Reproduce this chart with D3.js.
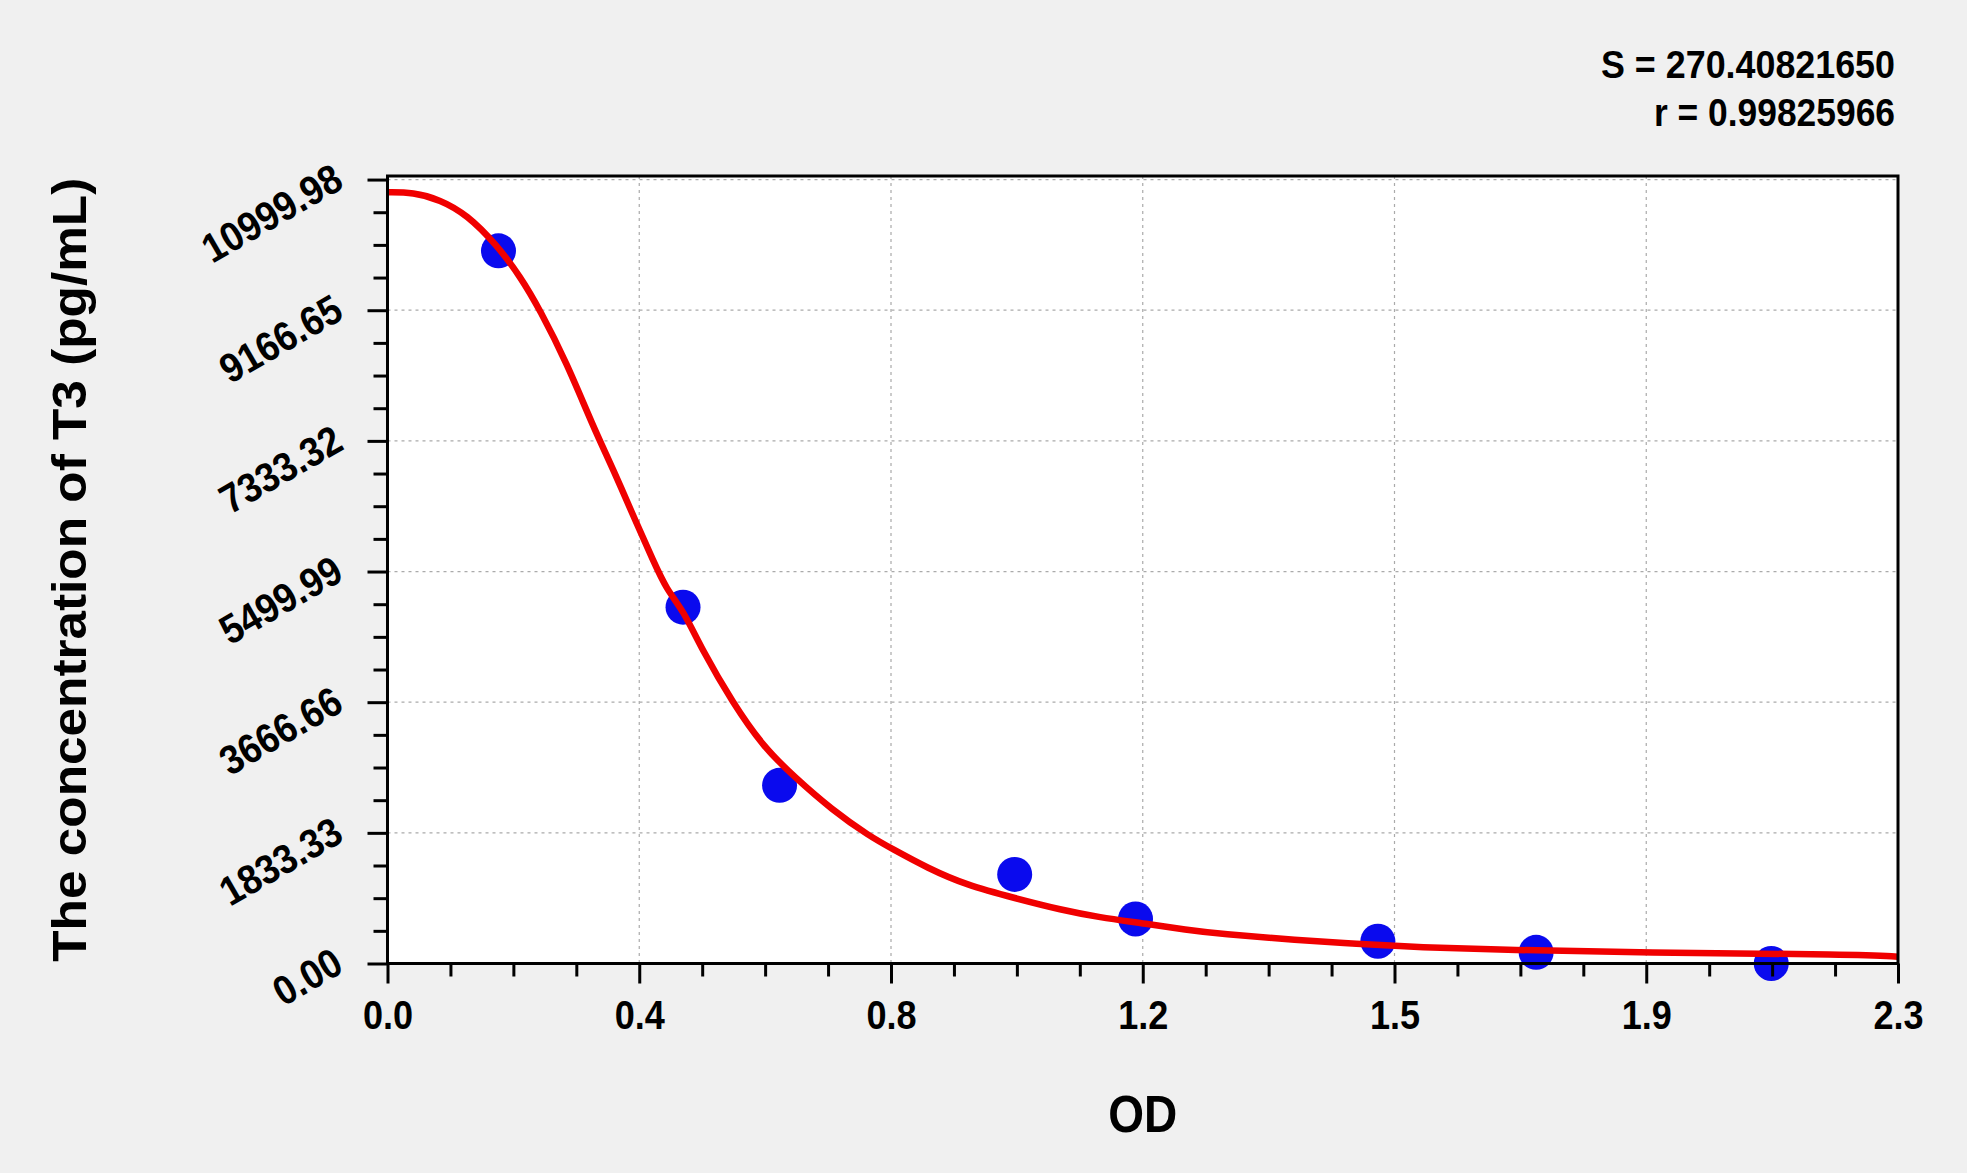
<!DOCTYPE html>
<html>
<head>
<meta charset="utf-8">
<script src="https://cdn.jsdelivr.net/npm/d3@7"></script>
<style>
  html, body { margin: 0; padding: 0; background: #f0f0f0; }
  svg { display: block; }
  text { font-family: "Liberation Sans", Arial, sans-serif; font-weight: bold; fill: #000; }
</style>
</head>
<body>
<div id="chart"></div>
<script>
// Standard points (OD vs concentration)
var odValues = [0.169, 0.450, 0.597, 0.955, 1.139, 1.508, 1.749, 2.107];
var concValues = [10000, 5000, 2500, 1250, 625, 312.5, 156.25, 0];

// Fitted curve
var curveOD = [0.000, 0.039, 0.080, 0.121, 0.166, 0.202, 0.232, 0.273, 0.313, 0.344, 0.379, 0.404,
    0.425, 0.450, 0.479, 0.526, 0.572, 0.619, 0.677, 0.735, 0.767, 0.823, 0.881, 0.956, 1.026,
    1.084, 1.150, 1.217, 1.268, 1.386, 1.474, 1.570, 1.710, 1.902, 2.241, 2.300];
var curveConc = [10821, 10821, 10719, 10508, 10087, 9642, 9174, 8426, 7536, 6928, 6180, 5665,
    5244, 4963, 4401, 3653, 3044, 2622, 2155, 1780, 1617, 1336, 1102, 915, 751,
    648, 564, 470, 414, 330, 274, 227, 190, 152, 129, 95];

// Axis ticks and labels
var xTicks = [0, 0.38333, 0.76667, 1.15, 1.53333, 1.91667, 2.3];
var xTickLabels = ["0.0", "0.4", "0.8", "1.2", "1.5", "1.9", "2.3"];
var yTicks = [0, 1833.33, 3666.66, 5499.99, 7333.32, 9166.65, 10999.98];
var yTickLabels = ["0.00", "1833.33", "3666.66", "5499.99", "7333.32", "9166.65", "10999.98"];

var statLines = ["S = 270.40821650", "r = 0.99825966"];

// Set margins, height, width for SVG
var W = 1967, H = 1173;
var margin = { top: 176, right: 69, bottom: 209.5, left: 387.5 };
var width = W - margin.left - margin.right;
var height = H - margin.top - margin.bottom;

var root = d3.select("#chart").append("svg")
    .attr("width", W)
    .attr("height", H);

root.append("rect")
    .attr("width", W).attr("height", H)
    .attr("fill", "#f0f0f0");

var svg = root.append("g")
    .attr("transform", "translate(" + margin.left + "," + margin.top + ")");

// Scales
var x = d3.scaleLinear().domain([0, 2.3]).range([0, width]);
var y = d3.scaleLinear().domain([0, 11050]).range([height, 0]);

// minor ticks: 3 between each pair of majors
function minors(arr) {
    var out = [];
    for (var i = 0; i < arr.length - 1; i++) {
        for (var k = 1; k < 4; k++) out.push(arr[i] + (arr[i + 1] - arr[i]) * k / 4);
    }
    return out;
}

function condense(sel, k) {
    sel.each(function () {
        var w = this.getComputedTextLength();
        d3.select(this).attr("textLength", w * k).attr("lengthAdjust", "spacingAndGlyphs");
    });
}

// Plot background
svg.append("rect")
    .attr("width", width).attr("height", height)
    .attr("fill", "#fff");

// Grid
svg.append("g").selectAll("line")
    .data(xTicks.slice(1, -1))
    .enter().append("line")
    .attr("x1", function (d) { return x(d); })
    .attr("x2", function (d) { return x(d); })
    .attr("y1", 0).attr("y2", height)
    .attr("stroke", "#aaa").attr("stroke-width", 1.2)
    .attr("stroke-dasharray", "3,4");

svg.append("g").selectAll("line")
    .data(yTicks.slice(1))
    .enter().append("line")
    .attr("y1", function (d) { return y(d); })
    .attr("y2", function (d) { return y(d); })
    .attr("x1", 0).attr("x2", width)
    .attr("stroke", "#aaa").attr("stroke-width", 1.2)
    .attr("stroke-dasharray", "3,4");

// Points (drawn under the curve)
svg.append("g").selectAll("circle")
    .data(odValues)
    .enter().append("circle")
    .attr("cx", function (d) { return x(d); })
    .attr("cy", function (d, i) { return y(concValues[i]); })
    .attr("r", 17.5)
    .attr("fill", "#0a0aee");

// Fitted curve
var line = d3.line()
    .x(function (d) { return x(d[0]); })
    .y(function (d) { return y(d[1]); })
    .curve(d3.curveBasis);

svg.append("path")
    .datum(curveOD.map(function (d, i) { return [d, curveConc[i]]; }))
    .attr("d", line)
    .attr("fill", "none")
    .attr("stroke", "#f00000")
    .attr("stroke-width", 6.5)
    .attr("stroke-linejoin", "round");

// Frame
svg.append("rect")
    .attr("width", width).attr("height", height)
    .attr("fill", "none")
    .attr("stroke", "#000").attr("stroke-width", 3);

// X axis
var xMinor = svg.append("g")
    .attr("transform", "translate(0," + height + ")")
    .call(d3.axisBottom(x).tickValues(minors(xTicks)).tickSize(13).tickFormat(""));

var xAxis = svg.append("g")
    .attr("transform", "translate(0," + height + ")")
    .call(d3.axisBottom(x).tickValues(xTicks).tickSize(20)
        .tickFormat(function (d, i) { return xTickLabels[i]; }));

xAxis.selectAll("text")
    .attr("y", 65.5).attr("dy", null)
    .attr("font-size", 41);
condense(xAxis.selectAll("text"), 0.88);

// Y axis
var yMinor = svg.append("g")
    .call(d3.axisLeft(y).tickValues(minors(yTicks)).tickSize(14).tickFormat(""));

var yAxis = svg.append("g")
    .call(d3.axisLeft(y).tickValues(yTicks).tickSize(20)
        .tickFormat(function (d, i) { return yTickLabels[i]; }));

yAxis.selectAll("text")
    .attr("x", null).attr("dy", null)
    .attr("text-anchor", "end")
    .attr("font-size", 41)
    .attr("transform", "translate(-42,7) rotate(-30)");
condense(yAxis.selectAll("text"), 0.9);

[xMinor, xAxis, yMinor, yAxis].forEach(function (g) {
    g.select(".domain").remove();
    g.selectAll(".tick line").attr("stroke", "#000").attr("stroke-width", 3);
    g.selectAll("text").attr("fill", "#000").style("font-family", null);
});

// Axis labels
root.append("text")
    .attr("x", margin.left + width / 2)
    .attr("y", 1131.7)
    .attr("text-anchor", "middle")
    .attr("font-size", 51)
    .attr("textLength", 69)
    .attr("lengthAdjust", "spacingAndGlyphs")
    .text("OD");

root.append("text")
    .attr("transform", "translate(86," + (margin.top + height / 2) + ") rotate(-90)")
    .attr("text-anchor", "middle")
    .attr("font-size", 48)
    .attr("textLength", 784)
    .attr("lengthAdjust", "spacingAndGlyphs")
    .text("The concentration of T3 (pg/mL)");

// Fit statistics
var statLengths = [294, 241];
root.selectAll(".stat")
    .data(statLines)
    .enter().append("text")
    .attr("class", "stat")
    .attr("x", 1895)
    .attr("y", function (d, i) { return 78 + i * 48; })
    .attr("text-anchor", "end")
    .attr("font-size", 39)
    .attr("textLength", function (d, i) { return statLengths[i]; })
    .attr("lengthAdjust", "spacingAndGlyphs")
    .text(function (d) { return d; });
</script>
</body>
</html>
